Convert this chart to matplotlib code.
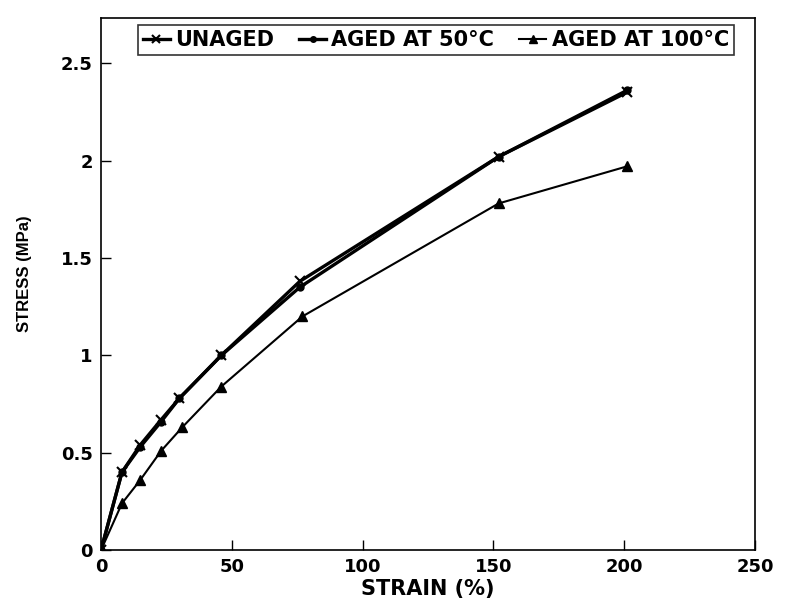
import matplotlib.pyplot as plt

plt.rcParams['font.family'] = ['DejaVu Sans']

# strain (%) and stress (MPa)
strain = [0, 8, 15, 23, 30, 46, 76, 152, 201]
stress_unaged = [0, 0.40, 0.54, 0.67, 0.78, 1.00, 1.38, 2.02, 2.35]
stress_50 = [0, 0.40, 0.53, 0.66, 0.78, 1.00, 1.35, 2.02, 2.36]

strain_100 = [0, 8, 15, 23, 31, 46, 77, 152, 201]
stress_100 = [0, 0.24, 0.36, 0.51, 0.63, 0.84, 1.20, 1.78, 1.97]

fig = plt.figure(figsize=(7.85, 6.14), dpi=100)
ax = fig.add_axes([0.1287, 0.104, 0.833, 0.866])

ax.plot(strain, stress_unaged, color='black', lw=2.4, marker='x', ms=7, mew=1.5,
        label='UNAGED', zorder=3)
ax.plot(strain, stress_50, color='black', lw=2.4, marker='o', ms=5,
        label='AGED AT 50°C', zorder=3)
ax.plot(strain_100, stress_100, color='black', lw=1.5, marker='^', ms=7,
        label='AGED AT 100°C', zorder=3)

ax.set_xlim(0, 250)
ax.set_ylim(0, 2.73)
ax.set_xticks([0, 50, 100, 150, 200, 250])
ax.set_yticks([0, 0.5, 1, 1.5, 2, 2.5])
ax.set_yticklabels(['0', '0.5', '1', '1.5', '2', '2.5'])
ax.tick_params(direction='in', length=7, width=1, labelsize=13, pad=6)
for lab in ax.get_xticklabels() + ax.get_yticklabels():
    lab.set_fontweight('bold')
for s in ax.spines.values():
    s.set_linewidth(1.2)

ax.set_xlabel('STRAIN (%)', fontsize=15, fontweight='bold', labelpad=2)
ax.set_ylabel('STRESS (MPa)', fontsize=12, fontweight='bold',
              family='Liberation Sans')
ax.yaxis.set_label_coords(-0.106, 0.52)

leg = ax.legend(loc='upper center', bbox_to_anchor=(0.512, 1.0), ncol=3,
                prop={'size': 15, 'weight': 'bold'}, frameon=True,
                fancybox=False, edgecolor='black',
                handlelength=1.3, handletextpad=0.25, columnspacing=1.2,
                borderpad=0.25, borderaxespad=0.3, markerscale=0.8)
leg.get_frame().set_linewidth(1.2)

fig.savefig('out.png', dpi=100)
